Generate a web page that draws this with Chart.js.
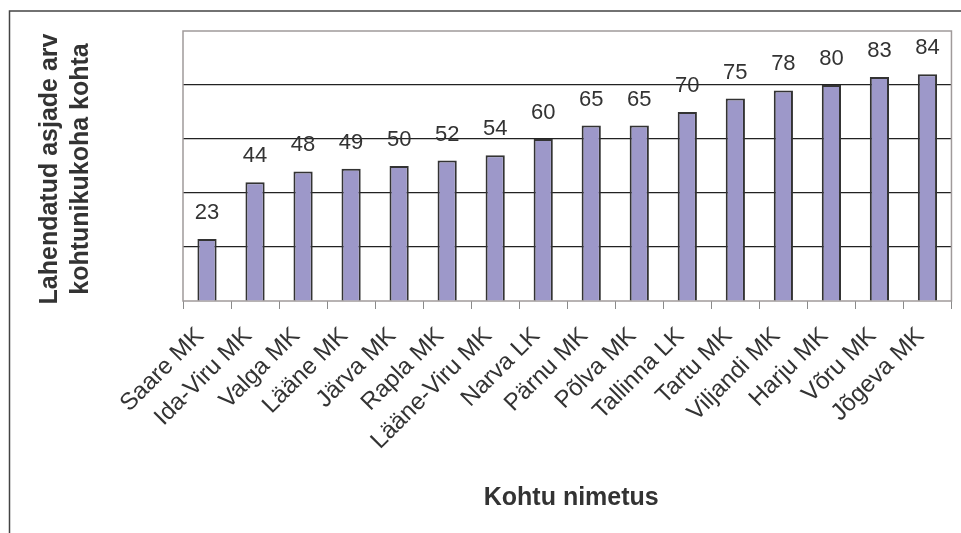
<!DOCTYPE html>
<html>
<head>
<meta charset="utf-8">
<script src="https://cdn.jsdelivr.net/npm/chart.js@4/dist/chart.umd.min.js"></script>
<style>
  html, body { margin: 0; padding: 0; background: #fff; }
  #wrap { width: 961px; height: 533px; }
</style>
</head>
<body>
<div id="wrap"><canvas id="chart" width="961" height="533"></canvas></div>
<script>
// ===== Data =====
const courts = [
  'Saare MK', 'Ida-Viru MK', 'Valga MK', 'Lääne MK', 'Järva MK', 'Rapla MK',
  'Lääne-Viru MK', 'Narva LK', 'Pärnu MK', 'Põlva MK', 'Tallinna LK',
  'Tartu MK', 'Viljandi MK', 'Harju MK', 'Võru MK', 'Jõgeva MK'
];
const solvedPerJudge = [23, 44, 48, 49, 50, 52, 54, 60, 65, 65, 70, 75, 78, 80, 83, 84];
const yTitleLines = ['Lahendatud asjade arv', 'kohtunikukoha kohta'];
const xTitle = 'Kohtu nimetus';

// ===== Styles =====
const FONT = "'Liberation Sans', Arial, sans-serif";
const TEXT = '#333333';
const FRAME = '#a09a9a';

// value labels above the bars
const valueLabels = {
  id: 'valueLabels',
  afterDatasetsDraw(chart) {
    const ctx = chart.ctx;
    const meta = chart.getDatasetMeta(0);
    ctx.save();
    ctx.font = '22px ' + FONT;
    ctx.fillStyle = TEXT;
    ctx.textAlign = 'center';
    ctx.textBaseline = 'alphabetic';
    meta.data.forEach((bar, i) => {
      ctx.fillText(String(solvedPerJudge[i]), bar.x, bar.y - 20);
    });
    ctx.restore();
  }
};

// plot frame, axis titles and outer border
const frame = {
  id: 'frame',
  beforeDatasetsDraw(chart) {
    const { ctx, chartArea: a } = chart;
    ctx.save();
    ctx.strokeStyle = FRAME;
    ctx.lineWidth = 1.5;
    ctx.strokeRect(a.left, a.top, a.right - a.left, a.bottom - a.top);
    ctx.restore();
  },
  afterDraw(chart) {
    const { ctx, chartArea: a } = chart;
    ctx.save();
    // outer border (left + top)
    ctx.strokeStyle = '#444';
    ctx.lineWidth = 1.5;
    ctx.beginPath();
    ctx.moveTo(9.5, 533);
    ctx.lineTo(9.5, 11);
    ctx.lineTo(961, 11);
    ctx.stroke();

    ctx.fillStyle = TEXT;
    ctx.font = 'bold 25px ' + FONT;
    ctx.textAlign = 'center';
    ctx.textBaseline = 'middle';
    // y title
    ctx.save();
    ctx.translate(50, 169);
    ctx.rotate(-Math.PI / 2);
    ctx.fillText(yTitleLines[0], 0, 0);
    ctx.fillText(yTitleLines[1], 0, 31);
    ctx.restore();
    // x title
    ctx.fillText(xTitle, (a.left + a.right) / 2 + 4, 498);
    ctx.restore();
  }
};

new Chart(document.getElementById('chart'), {
  type: 'bar',
  data: {
    labels: courts,
    datasets: [{
      data: solvedPerJudge,
      backgroundColor: '#9d98c9',
      borderColor: '#333333',
      borderWidth: 2,
      barPercentage: 0.4,
      categoryPercentage: 1,
    }],
  },
  options: {
    responsive: false,
    animation: false,
    layout: { padding: { top: 31, right: 6, left: 0, bottom: 0 } },
    plugins: {
      legend: { display: false },
      tooltip: { enabled: false },
    },
    scales: {
      x: {
        grid: {
          offset: true,
          drawOnChartArea: false,
          drawTicks: true,
          tickLength: 8,
          color: '#8a8a8a',
        },
        border: { display: false },
        ticks: {
          autoSkip: false,
          minRotation: 45,
          maxRotation: 45,
          padding: 13,
          labelOffset: -7,
          color: TEXT,
          font: { family: FONT, size: 24 },
        },
        afterFit(scale) { scale.height = 232; },
      },
      y: {
        min: 0,
        max: 100,
        ticks: { stepSize: 20, display: false },
        grid: {
          drawTicks: false,
          lineWidth: 1.2,
          color: (c) => (c.tick.value === 0 || c.tick.value === 100) ? 'rgba(0,0,0,0)' : '#222222',
        },
        border: { display: false },
        afterFit(scale) { scale.width = 183; },
      },
    },
  },
  plugins: [frame, valueLabels],
});
</script>
</body>
</html>
